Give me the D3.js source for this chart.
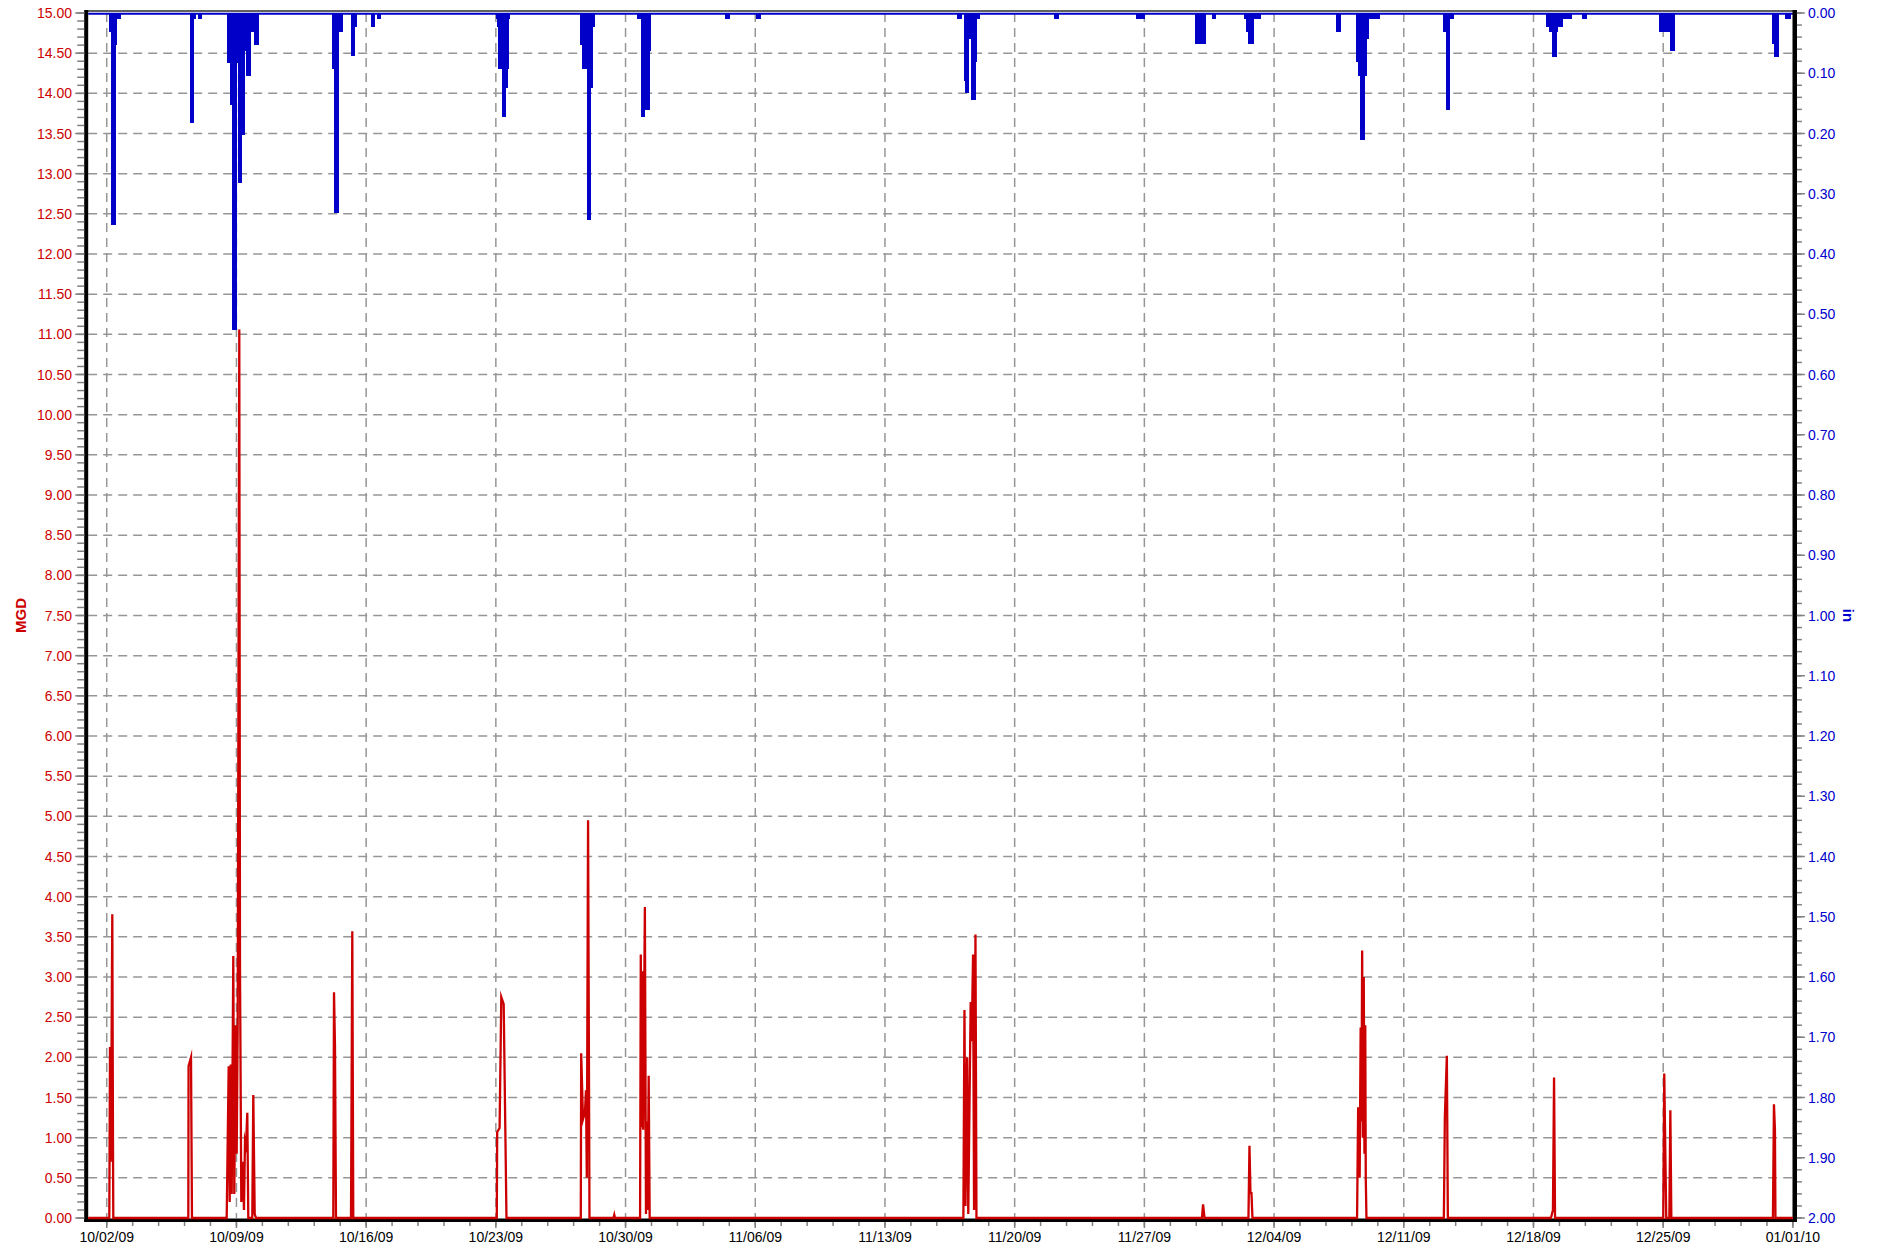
<!DOCTYPE html>
<html><head><meta charset="utf-8">
<script src="https://cdn.jsdelivr.net/npm/d3@7"></script>
<style>
body{margin:0;background:#fff}
svg{display:block}
text{font-family:"Liberation Sans",Arial,Helvetica,sans-serif}
</style>
</head><body>
<svg id="chart" width="1879" height="1249"></svg>
<script>
// ---------------- DATA ----------------
const xTickLabels = ["10/02/09","10/09/09","10/16/09","10/23/09","10/30/09","11/06/09","11/13/09",
  "11/20/09","11/27/09","12/04/09","12/11/09","12/18/09","12/25/09","01/01/10"];
const xDomain = ["10/01/09 00:00","01/01/10 00:00"];
const flowDomain = [0, 15];   // MGD (left)
const rainDomain = [0, 2];    // in (right, inverted)
const flowAxisTitle = "MGD";
const rainAxisTitle = "in";

// Flow (MGD) time series
const flowSeries = [
  ["10/01/09 00:00",0],
  ["10/02/09 03:20",0],["10/02/09 04:14",2.13],["10/02/09 05:09",0.7],["10/02/09 05:55",1.55],["10/02/09 07:12",3.78],["10/02/09 08:07",0.9],["10/02/09 08:30",0],
  ["10/06/09 09:40",0],["10/06/09 10:00",1.89],["10/06/09 13:10",2.0],["10/06/09 14:25",0],
  ["10/08/09 11:23",0],["10/08/09 13:58",1.89],["10/08/09 15:16",0.2],["10/08/09 16:34",1.91],["10/08/09 17:52",0.3],
  ["10/08/09 19:56",3.26],["10/08/09 21:14",0.3],["10/08/09 23:02",2.40],["10/09/09 00:20",0.8],["10/09/09 01:38",2.40],
  ["10/09/09 03:42",11.06],["10/09/09 04:37",3.11],["10/09/09 06:18",0.2],["10/09/09 08:06",0.7],["10/09/09 09:45",0.1],
  ["10/09/09 11:05",0.96],["10/09/09 12:23",0.9],["10/09/09 14:04",1.31],["10/09/09 15:22",0],
  ["10/09/09 20:32",0],["10/09/09 21:50",1.53],["10/09/09 23:39",0.05],["10/10/09 01:20",0],
  ["10/14/09 05:27",0],["10/14/09 06:22",2.81],["10/14/09 07:39",2.13],["10/14/09 08:57",0],
  ["10/15/09 04:23",0],["10/15/09 06:04",3.57],["10/15/09 07:21",0],
  ["10/23/09 01:13",0],["10/23/09 01:44",1.07],["10/23/09 04:51",1.12],["10/23/09 07:03",2.75],["10/23/09 10:09",2.66],["10/23/09 13:47",0],
  ["10/27/09 14:01",0],["10/27/09 14:32",2.05],["10/27/09 16:52",1.23],["10/27/09 19:27",1.32],["10/27/09 20:45",1.59],["10/27/09 21:50",0.5],["10/27/09 23:28",4.95],["10/28/09 01:17",0],
  ["10/29/09 08:22",0],["10/29/09 09:24",0.04],["10/29/09 10:19",0],
  ["10/30/09 18:49",0],["10/30/09 19:44",3.28],["10/30/09 20:38",1.13],["10/30/09 21:56",3.07],["10/30/09 22:50",1.1],
  ["10/31/09 01:02",3.87],["10/31/09 02:28",0.05],["10/31/09 03:14",1.2],["10/31/09 04:40",0.1],["10/31/09 05:57",1.77],["10/31/09 07:15",0],
  ["11/17/09 05:33",0],["11/17/09 06:59",2.59],["11/17/09 08:17",0.15],["11/17/09 10:29",2.0],["11/17/09 11:54",0.05],
  ["11/17/09 15:01",2.69],["11/17/09 16:18",2.2],["11/17/09 18:07",3.28],["11/17/09 19:25",0.1],["11/17/09 21:14",3.53],["11/17/09 22:31",0],
  ["11/30/09 02:35",0],["11/30/09 04:01",0.17],["11/30/09 05:57",0],
  ["12/02/09 14:49",0],["12/02/09 16:07",0.90],["12/02/09 17:25",0.31],["12/02/09 18:42",0.31],["12/02/09 20:00",0],
  ["12/08/09 11:29",0],["12/08/09 12:54",1.38],["12/08/09 14:51",0.5],["12/08/09 16:08",2.37],["12/08/09 17:10",1.2],
  ["12/08/09 18:05",3.33],["12/08/09 18:59",1.0],["12/08/09 20:09",3.0],["12/08/09 21:04",0.8],["12/08/09 22:06",2.40],["12/08/09 22:45",0.5],["12/08/09 23:39",0],
  ["12/13/09 03:54",0],["12/13/09 05:12",1.26],["12/13/09 07:47",2.02],["12/13/09 09:05",0],
  ["12/18/09 22:37",0],["12/19/09 01:12",0.1],["12/19/09 02:38",1.75],["12/19/09 03:55",0],
  ["12/25/09 00:04",0],["12/25/09 01:22",1.80],["12/25/09 03:57",0],["12/25/09 07:58",0],["12/25/09 09:16",1.34],["12/25/09 10:33",0],
  ["12/30/09 22:09",0],["12/30/09 23:27",1.415],["12/31/09 00:44",1.1],["12/31/09 01:23",0],
  ["01/01/10 00:00",0]
];

// Rainfall (in) bars: [start, end, inches]
const rainBars = [
  ["10/02/09 03:20","10/02/09 05:32",0.031],["10/02/09 05:32","10/02/09 12:00",0.352],["10/02/09 12:00","10/02/09 12:55",0.053],["10/02/09 12:55","10/02/09 18:06",0.0105],
  ["10/06/09 11:51","10/06/09 17:02",0.182],["10/06/09 17:02","10/06/09 19:37",0.0105],["10/06/09 22:13","10/07/09 03:24",0.0105],
  ["10/08/09 11:23","10/08/09 15:40",0.0825],["10/08/09 15:40","10/08/09 18:38",0.153],["10/08/09 18:38","10/09/09 00:44",0.526],
  ["10/09/09 00:44","10/09/09 02:01",0.0825],["10/09/09 02:01","10/09/09 07:12",0.282],["10/09/09 07:12","10/09/09 11:05",0.2025],
  ["10/09/09 11:05","10/09/09 12:23",0.0626],["10/09/09 12:23","10/09/09 18:51",0.1046],["10/09/09 18:51","10/09/09 22:45",0.031],["10/09/09 22:45","10/10/09 05:13",0.053],
  ["10/14/09 04:09","10/14/09 06:45",0.093],["10/14/09 06:45","10/14/09 12:50",0.332],["10/14/09 12:50","10/14/09 18:01",0.031],
  ["10/15/09 04:23","10/15/09 09:33",0.072],["10/15/09 09:33","10/15/09 12:09",0.023],
  ["10/16/09 06:17","10/16/09 11:28",0.023],["10/16/09 14:03","10/16/09 19:14",0.0105],
  ["10/23/09 00:26","10/23/09 01:44",0.0105],["10/23/09 01:44","10/23/09 02:39",0.023],["10/23/09 02:39","10/23/09 07:57",0.093],
  ["10/23/09 07:57","10/23/09 13:47",0.172],["10/23/09 13:47","10/23/09 15:59",0.124],["10/23/09 15:59","10/23/09 17:17",0.093],["10/23/09 17:17","10/23/09 18:11",0.0105],
  ["10/27/09 13:38","10/27/09 15:26",0.053],["10/27/09 15:26","10/27/09 21:39",0.093],["10/27/09 21:39","10/28/09 03:06",0.344],
  ["10/28/09 03:06","10/28/09 05:18",0.124],["10/28/09 05:18","10/28/09 08:24",0.023],
  ["10/30/09 14:48","10/30/09 19:44",0.0105],["10/30/09 19:44","10/31/09 01:02",0.172],["10/31/09 01:02","10/31/09 07:46",0.161],["10/31/09 07:46","10/31/09 09:04",0.063],
  ["11/04/09 08:31","11/04/09 15:15",0.0105],["11/06/09 00:40","11/06/09 07:25",0.0105],
  ["11/16/09 21:16","11/17/09 03:45",0.0105],["11/17/09 06:04","11/17/09 07:38",0.113],["11/17/09 07:38","11/17/09 13:04",0.132],
  ["11/17/09 13:04","11/17/09 15:01",0.043],["11/17/09 15:01","11/17/09 21:37",0.144],["11/17/09 21:37","11/17/09 23:49",0.082],["11/17/09 23:49","11/18/09 03:03",0.0105],
  ["11/22/09 03:02","11/22/09 09:23",0.0105],
  ["11/26/09 13:38","11/27/09 00:15",0.0105],
  ["11/29/09 17:31","11/30/09 07:46",0.052],
  ["11/30/09 15:33","11/30/09 20:43",0.0105],
  ["12/02/09 08:52","12/02/09 11:42",0.0105],["12/02/09 11:42","12/02/09 14:33",0.031],["12/02/09 14:33","12/02/09 22:20",0.052],["12/02/09 22:20","12/03/09 06:53",0.0105],
  ["12/07/09 08:09","12/07/09 14:37",0.031],
  ["12/08/09 09:47","12/08/09 13:17",0.082],["12/08/09 13:17","12/08/09 15:29",0.104],["12/08/09 15:29","12/08/09 21:50",0.211],
  ["12/08/09 21:50","12/09/09 00:02",0.104],["12/09/09 00:02","12/09/09 02:53",0.043],["12/09/09 02:53","12/09/09 17:08",0.0105],
  ["12/13/09 02:44","12/13/09 06:22",0.031],["12/13/09 06:22","12/13/09 12:03",0.161],["12/13/09 12:03","12/13/09 16:59",0.0105],
  ["12/18/09 16:16","12/18/09 19:54",0.023],["12/18/09 19:54","12/19/09 00:10",0.031],["12/19/09 00:10","12/19/09 06:31",0.0725],
  ["12/19/09 06:31","12/19/09 07:56",0.031],["12/19/09 07:56","12/19/09 14:25",0.023],["12/19/09 14:25","12/20/09 02:28",0.0105],
  ["12/20/09 14:30","12/20/09 21:38",0.0105],
  ["12/24/09 18:45","12/25/09 09:00",0.031],["12/25/09 09:00","12/25/09 15:21",0.063],
  ["12/30/09 21:07","12/30/09 23:58",0.052],["12/30/09 23:58","12/31/09 06:18",0.0725],
  ["12/31/09 13:41","12/31/09 21:28",0.0105]
];

// ---------------- CHART ----------------
const parseT = d3.utcParse("%m/%d/%y %H:%M");
const parseD = d3.utcParse("%m/%d/%y");
const fmtD = d3.utcFormat("%m/%d/%y");

const L = 88.2, R = 1792.9, T = 13, B = 1218;
const flowColor = "#cc0000", rainColor = "#0000c8", labelBlue = "#0000cc";
const gridColor = "#969696", tickColor = "#808080";

const svg = d3.select("#chart");
const x = d3.scaleUtc().domain(xDomain.map(parseT)).range([L, R]);
const yF = d3.scaleLinear().domain(flowDomain).range([B, T]);
const yR = d3.scaleLinear().domain(rainDomain).range([T, B]);

const majorDates = xTickLabels.map(parseD);
const dayMs = 864e5;
const minorDates = d3.range(0, 66).map(i => new Date(+majorDates[0] + i * 1.4 * dayMs)).filter(d => d <= x.domain()[1]);
const flowMajor = d3.range(0, 31).map(i => i * 0.5);
const flowMinor = d3.range(0, 151).map(i => i / 10);
const rainMajor = d3.range(0, 21).map(i => i / 10);
const rainMinor = d3.range(0, 101).map(i => i / 50);

// gridlines
const grid = svg.append("g").attr("stroke", gridColor).attr("stroke-width", 1.5).attr("stroke-dasharray", "9,6");
grid.selectAll("line.h").data(flowMajor.filter(v => v > 0 && v < 15)).join("line")
  .attr("x1", L).attr("x2", R).attr("y1", d => yF(d)).attr("y2", d => yF(d));
grid.selectAll("line.v").data(majorDates.slice(0, -1)).join("line")
  .attr("x1", d => x(d)).attr("x2", d => x(d)).attr("y1", T).attr("y2", B);

// rain bars
svg.append("g").attr("fill", rainColor).attr("shape-rendering", "crispEdges")
  .selectAll("rect").data(rainBars).join("rect")
  .attr("x", d => x(parseT(d[0])))
  .attr("width", d => Math.max(1, x(parseT(d[1])) - x(parseT(d[0]))))
  .attr("y", yR(0))
  .attr("height", d => yR(d[2]) - yR(0));
// rain zero line
svg.append("line").attr("x1", L).attr("x2", R).attr("y1", yR(0) + 0.7).attr("y2", yR(0) + 0.7)
  .attr("stroke", rainColor).attr("stroke-width", 2);

// top frame
svg.append("line").attr("x1", L - 2).attr("x2", R + 2).attr("y1", T - 2).attr("y2", T - 2)
  .attr("stroke", "#606060").attr("stroke-width", 2);

// axes lines (thick black)
svg.append("rect").attr("x", L - 4).attr("y", T - 3).attr("width", 4).attr("height", B - T + 7).attr("fill", "#000");
svg.append("rect").attr("x", R - 0.4).attr("y", T - 3).attr("width", 4.5).attr("height", B - T + 7).attr("fill", "#000");
svg.append("rect").attr("x", L - 4).attr("y", B + 0.5).attr("width", R - L + 8).attr("height", 3.5).attr("fill", "#000");

// flow line
const line = d3.line().x(d => x(parseT(d[0]))).y(d => yF(d[1]));
svg.append("path").datum(flowSeries).attr("d", line)
  .attr("fill", "none").attr("stroke", flowColor).attr("stroke-width", 2.3).attr("stroke-linejoin", "miter").attr("stroke-miterlimit", 10);

// left axis ticks + labels
const lt = svg.append("g").attr("stroke", tickColor).attr("stroke-width", 1.5);
lt.selectAll("line.mn").data(flowMinor).join("line").attr("x1", L - 11).attr("x2", L - 4).attr("y1", d => yF(d)).attr("y2", d => yF(d));
lt.selectAll("line.mj").data(flowMajor).join("line").attr("class","mj").attr("x1", L - 13).attr("x2", L - 4).attr("y1", d => yF(d)).attr("y2", d => yF(d));
svg.append("g").selectAll("text").data(flowMajor).join("text")
  .attr("x", 72).attr("y", d => yF(d)).attr("dy", "0.36em").attr("text-anchor", "end")
  .attr("font-size", 14).attr("fill", flowColor).text(d => d.toFixed(2));

// right axis ticks + labels
const rt = svg.append("g").attr("stroke", tickColor).attr("stroke-width", 1.5);
rt.selectAll("line.mn").data(rainMinor).join("line").attr("x1", R + 4).attr("x2", R + 9).attr("y1", d => yR(d)).attr("y2", d => yR(d));
rt.selectAll("line.mj").data(rainMajor).join("line").attr("class","mj").attr("x1", R + 4).attr("x2", R + 12).attr("y1", d => yR(d)).attr("y2", d => yR(d));
svg.append("g").selectAll("text").data(rainMajor).join("text")
  .attr("x", 1808).attr("y", d => yR(d)).attr("dy", "0.36em").attr("text-anchor", "start")
  .attr("font-size", 14).attr("fill", labelBlue).text(d => d.toFixed(2));

// bottom axis ticks + labels
const bt = svg.append("g").attr("stroke", tickColor).attr("stroke-width", 1.5);
bt.selectAll("line.mn").data(minorDates).join("line").attr("x1", d => x(d)).attr("x2", d => x(d)).attr("y1", B + 4).attr("y2", B + 8);
bt.selectAll("line.mj").data(majorDates).join("line").attr("class","mj").attr("x1", d => x(d)).attr("x2", d => x(d)).attr("y1", B + 4).attr("y2", B + 10);
svg.append("g").selectAll("text").data(majorDates).join("text")
  .attr("x", d => x(d)).attr("y", 1242).attr("text-anchor", "middle")
  .attr("font-size", 14).attr("fill", "#000").text(d => fmtD(d));

// axis titles
svg.append("text").attr("transform", `translate(20.5,${(T + B) / 2}) rotate(-90)`)
  .attr("text-anchor", "middle").attr("dy", "0.36em").attr("font-size", 15).attr("font-weight", "bold")
  .attr("fill", flowColor).text(flowAxisTitle);
svg.append("text").attr("transform", `translate(1848.5,${(T + B) / 2}) rotate(90)`)
  .attr("text-anchor", "middle").attr("dy", "0.36em").attr("font-size", 15).attr("font-weight", "bold")
  .attr("fill", labelBlue).text(rainAxisTitle);
</script>
</body></html>
